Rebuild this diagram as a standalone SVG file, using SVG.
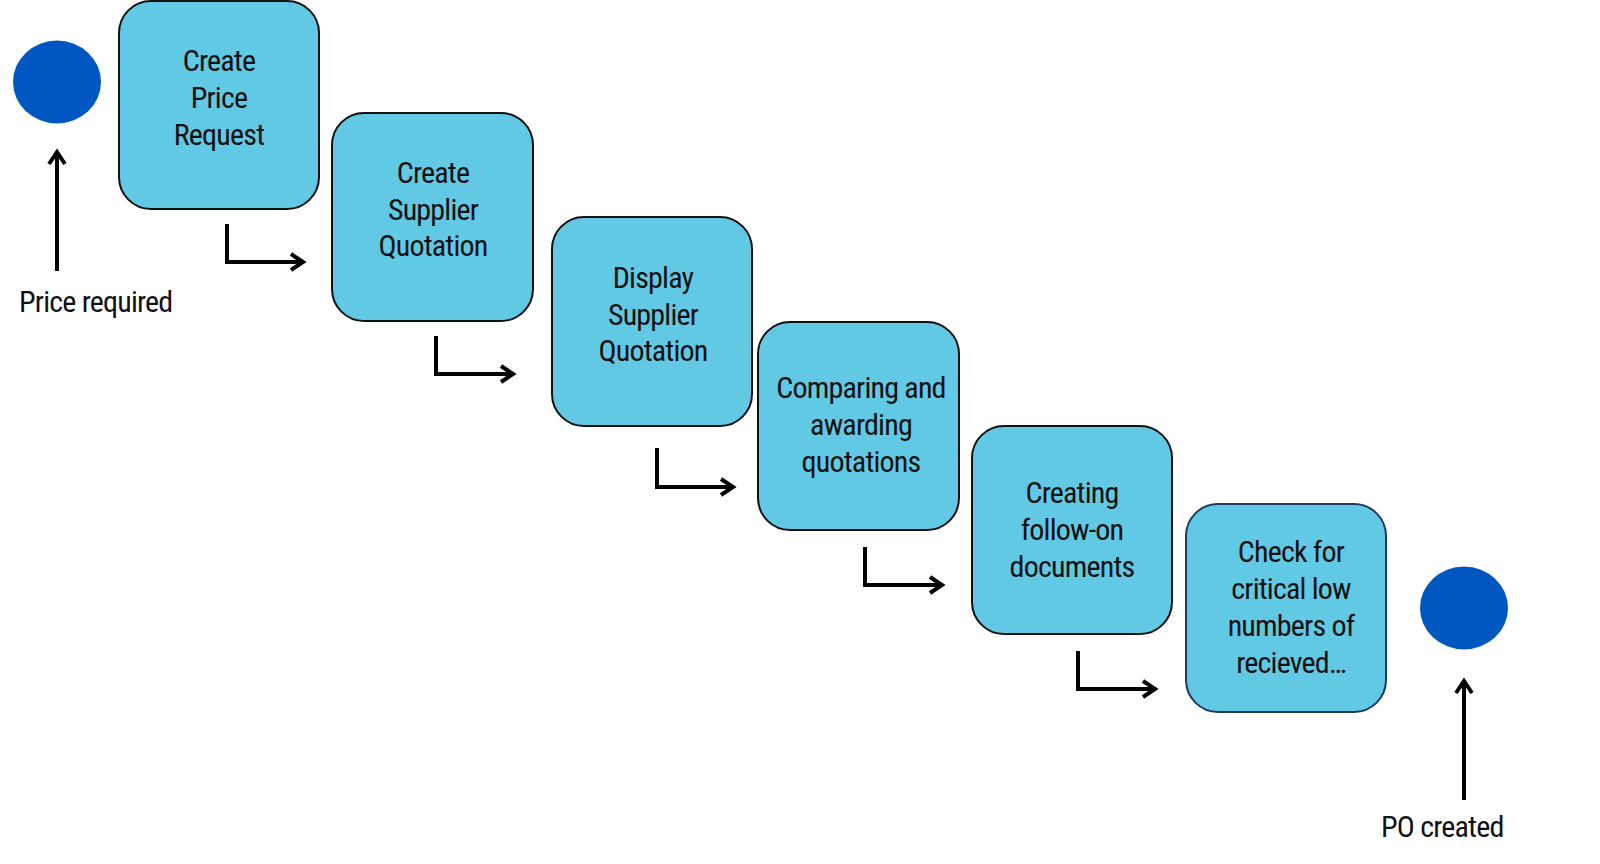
<svg xmlns="http://www.w3.org/2000/svg" width="1600" height="864" viewBox="0 0 1600 864">
<style>
.box{fill:#62C9E5;stroke:#111;stroke-width:2}
.box6{fill:#62C9E5;stroke:#1F3A5F;stroke-width:2}
.dot{fill:#0057C2}
.t{font-family:"Liberation Sans Narrow","Arial Narrow","Roboto Condensed","Liberation Sans",sans-serif;font-stretch:condensed;font-weight:400;letter-spacing:-0.8px;font-size:30px;fill:#111;text-anchor:middle}
.l{font-family:"Liberation Sans Narrow","Arial Narrow","Roboto Condensed","Liberation Sans",sans-serif;font-stretch:condensed;font-weight:400;letter-spacing:-0.8px;font-size:30px;fill:#111}
.c{fill:none;stroke:#000;stroke-width:4;marker-end:url(#ah)}
</style>
<defs>
<marker id="ah" markerUnits="userSpaceOnUse" viewBox="0 0 18 20" refX="15" refY="10" markerWidth="18" markerHeight="20" orient="auto">
<path d="M2,2 L14,10 L2,18" fill="none" stroke="#000" stroke-width="4"/>
</marker>
</defs>
<g id="start">
<ellipse class="dot" cx="57" cy="82" rx="44" ry="41.5"/>
<text class="l" x="19" y="312">Price required</text>
</g>
<g id="end">
<ellipse class="dot" cx="1464" cy="608" rx="44" ry="41.5"/>
<text class="l" x="1381" y="837">PO created</text>
</g>
<g id="n1">
<rect class="box" x="119" y="1" width="200" height="208" rx="32"/>
<text class="t" x="219" y="71">Create</text>
<text class="t" x="219" y="108">Price</text>
<text class="t" x="219" y="145">Request</text>
</g>
<g id="n2">
<rect class="box" x="332" y="113" width="201" height="208" rx="32"/>
<text class="t" x="433" y="183">Create</text>
<text class="t" x="433" y="220">Supplier</text>
<text class="t" x="433" y="256">Quotation</text>
</g>
<g id="n3">
<rect class="box" x="552" y="217" width="200" height="209" rx="32"/>
<text class="t" x="653" y="288">Display</text>
<text class="t" x="653" y="325">Supplier</text>
<text class="t" x="653" y="361">Quotation</text>
</g>
<g id="n4">
<rect class="box" x="758" y="322" width="201" height="208" rx="32"/>
<text class="t" x="861" y="398">Comparing and</text>
<text class="t" x="861" y="435">awarding</text>
<text class="t" x="861" y="472">quotations</text>
</g>
<g id="n5">
<rect class="box" x="972" y="426" width="200" height="208" rx="32"/>
<text class="t" x="1072" y="503">Creating</text>
<text class="t" x="1072" y="540">follow-on</text>
<text class="t" x="1072" y="577">documents</text>
</g>
<g id="n6">
<rect class="box6" x="1186" y="504" width="200" height="208" rx="32"/>
<text class="t" x="1291" y="562">Check for</text>
<text class="t" x="1291" y="599">critical low</text>
<text class="t" x="1291" y="636">numbers of</text>
<text class="t" x="1291" y="673">recieved…</text>
</g>
<g id="connectors">
<path class="c" d="M57,271 V151"/>
<path class="c" d="M1464,800 V680"/>
<path class="c" d="M227,224 V262 H304"/>
<path class="c" d="M436,336 V374 H514"/>
<path class="c" d="M657,448 V487 H734"/>
<path class="c" d="M865,547 V585 H943"/>
<path class="c" d="M1078,651 V689 H1156"/>
</g>
</svg>
